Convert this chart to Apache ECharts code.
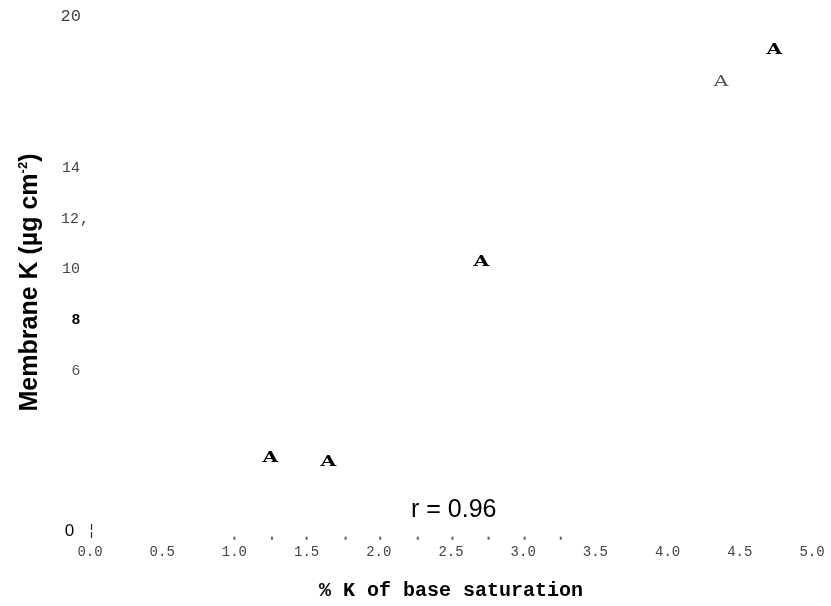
<!DOCTYPE html>
<html><head><meta charset="utf-8">
<script src="https://cdn.jsdelivr.net/npm/echarts@6/dist/echarts.min.js"></script>
<style>html,body{margin:0;padding:0;background:#fff}#c{width:831px;height:606px}</style>
</head><body><div id="c"></div>
<script>
// data
const xVals = [1.25, 1.65, 2.71, 4.37, 4.74];
const yVals = [2.54, 2.38, 10.28, 17.40, 18.66];
const lightIndex = 3;
const xTickTexts = ['0.0','0.5','1.0','1.5','2.0','2.5','3.0','3.5','4.0','4.5','5.0'];
const yTickValues = [0, 6, 8, 10, 12, 14, 20];
const yTickTexts = ['0', '6', '8', '10', '12,', '14', '20'];
const dotXs = [1.0, 1.26, 1.5, 1.77, 2.01, 2.27, 2.51, 2.76, 3.01, 3.26];
const dotYs = [-0.6, -0.6, -0.6, -0.6, -0.6, -0.6, -0.6, -0.6, -0.6, -0.6];
const rText = 'r = 0.96';

const chart = echarts.init(document.getElementById('c'), null, {renderer: 'canvas'});
const mono = 'Liberation Mono';
chart.setOption({
  animation: false,
  backgroundColor: '#fff',
  title: {
    text: rText, left: 406, top: 493,
    textStyle: {fontFamily: 'Liberation Sans', fontWeight: 'normal', fontSize: 25, color: '#000'}
  },
  grid: {left: 90, right: 19, top: 16, bottom: 81.4},
  xAxis: {
    type: 'value', min: 0, max: 5, interval: 0.5,
    axisLine: {show: false}, axisTick: {show: false}, splitLine: {show: false},
    axisLabel: {
      margin: 22, fontFamily: mono, fontSize: 14, color: '#444',
      formatter: v => xTickTexts[Math.round(v / 0.5)]
    },
    name: '% K of base saturation', nameLocation: 'middle', nameGap: 58,
    nameTextStyle: {fontFamily: mono, fontWeight: 'bold', fontSize: 20, color: '#000'}
  },
  yAxis: {
    type: 'value', min: 0, max: 20, interval: 2,
    axisLine: {show: false}, axisTick: {show: false}, splitLine: {show: false},
    axisLabel: {
      align: 'left', margin: 30,
      formatter: v => {
        const i = yTickValues.indexOf(v);
        if (i < 0) return '';
        const t = yTickTexts[i];
        if (v === 0) return '{z|' + t + '}{b|¦}';
        if (v === 8) return '{e|' + t + '}';
        if (v === 6) return '{s|' + t + '}';
        if (v === 20) return '{t|' + t + '}';
        if (t.endsWith(',')) return '{n|' + t.slice(0, -1) + '}{p|,}';
        return '{n|' + t + '}';
      },
      rich: {
        n: {fontFamily: mono, fontSize: 15, color: '#444', width: 20, align: 'right'},
        t: {fontFamily: mono, fontSize: 17, color: '#444', width: 21, align: 'right'},
        p: {fontFamily: mono, fontSize: 15, color: '#444'},
        e: {fontFamily: 'Liberation Sans', fontWeight: 'bold', fontSize: 15, color: '#000', width: 20, align: 'right'},
        s: {fontFamily: 'Liberation Sans', fontSize: 15, color: '#555', width: 20, align: 'right'},
        z: {fontFamily: 'Liberation Sans', fontSize: 17, color: '#000', width: 19, align: 'right', padding: [16, 0, 0, 0]},
        b: {fontFamily: 'DejaVu Sans', fontSize: 15, color: '#333', padding: [16, 0, 0, 10]}
      }
    },
    name: '{m|Membrane K (µg cm}{u|-2}{m|)}', nameLocation: 'middle', nameGap: 46, nameRotate: 90,
    nameTextStyle: {
      padding: [0, 26, 0, 0],
      rich: {
        m: {fontFamily: 'Liberation Sans', fontWeight: 'bold', fontSize: 25, color: '#000', lineHeight: 27},
        u: {fontFamily: 'Liberation Sans', fontWeight: 'bold', fontSize: 13, color: '#000', lineHeight: 13, verticalAlign: 'top'}
      }
    }
  },
  series: [
    {
      type: 'custom',
      data: xVals.map((x, i) => [x, yVals[i]]),
      renderItem: (params, api) => {
        const p = api.coord([api.value(0), api.value(1)]);
        const light = params.dataIndex === lightIndex;
        return {
          type: 'text', x: p[0], y: p[1], scaleX: 1.45,
          style: {
            text: 'A', fontFamily: 'DejaVu Serif', fontWeight: light ? 'normal' : 'bold',
            fontSize: 14, fill: light ? '#555' : '#000', align: 'center', verticalAlign: 'middle'
          }
        };
      }
    },
    {
      type: 'scatter', clip: false, symbol: 'rect', symbolSize: [2, 3],
      itemStyle: {color: '#333'},
      data: dotXs.map((x, i) => [x, dotYs[i]])
    }
  ]
});
</script></body></html>
